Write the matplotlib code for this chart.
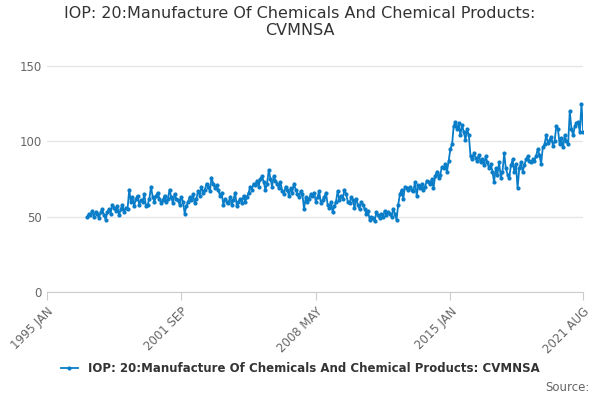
import pandas as pd
import matplotlib.pyplot as plt

# monthly values, Jan 1997 .. Aug 2021
y1997 = [50, 52, 51, 54, 50, 53, 52, 49, 53, 55, 51, 48]
y1998 = [53, 55, 52, 58, 56, 54, 57, 51, 55, 58, 53, 56]
y1999 = [55, 68, 60, 63, 57, 62, 64, 58, 61, 60, 65, 57]
y2000 = [58, 62, 70, 63, 60, 64, 66, 62, 59, 61, 64, 60]
y2001 = [62, 68, 63, 59, 65, 62, 61, 58, 63, 60, 52, 57]
y2002 = [60, 63, 61, 65, 59, 62, 67, 64, 70, 66, 68, 72]
y2003 = [70, 67, 76, 72, 69, 71, 68, 64, 66, 58, 62, 60]
y2004 = [59, 63, 58, 61, 66, 57, 60, 62, 59, 64, 60, 63]
y2005 = [66, 70, 68, 72, 71, 74, 70, 75, 77, 73, 68, 72]
y2006 = [81, 75, 70, 77, 74, 72, 69, 73, 67, 65, 70, 68]
y2007 = [64, 69, 66, 72, 68, 65, 63, 67, 65, 55, 63, 60]
y2008 = [62, 65, 64, 66, 60, 63, 67, 59, 61, 63, 66, 58]
y2009 = [56, 60, 53, 57, 60, 67, 61, 64, 62, 68, 65, 60]
y2010 = [59, 63, 61, 56, 62, 58, 55, 60, 58, 55, 52, 54]
y2011 = [48, 50, 49, 47, 53, 51, 49, 52, 50, 54, 51, 53]
y2012 = [52, 50, 55, 52, 48, 58, 65, 68, 62, 70, 69, 68]
y2013 = [70, 68, 67, 73, 64, 71, 69, 72, 68, 70, 74, 73]
y2014 = [72, 75, 69, 77, 80, 76, 78, 83, 82, 85, 80, 87]
y2015 = [95, 98, 110, 113, 108, 112, 104, 111, 106, 101, 108, 104]
y2016 = [90, 88, 92, 89, 87, 91, 86, 88, 84, 90, 86, 82]
y2017 = [85, 80, 73, 82, 78, 86, 76, 80, 92, 82, 78, 76]
y2018 = [84, 88, 80, 85, 69, 82, 86, 80, 84, 88, 90, 87]
y2019 = [86, 88, 87, 90, 95, 91, 85, 96, 98, 104, 99, 101]
y2020 = [103, 97, 100, 110, 108, 98, 102, 96, 104, 100, 98, 120]
y2021 = [108, 104, 110, 112, 113, 106, 125, 106]

values = (y1997 + y1998 + y1999 + y2000 + y2001 + y2002 + y2003 + y2004 + y2005
          + y2006 + y2007 + y2008 + y2009 + y2010 + y2011 + y2012 + y2013 + y2014
          + y2015 + y2016 + y2017 + y2018 + y2019 + y2020 + y2021)
dates = pd.date_range("1997-01-01", periods=len(values), freq="MS")

tick_dates = pd.to_datetime(["1995-01-01", "2001-09-01", "2008-05-01", "2015-01-01", "2021-08-01"])
tick_labels = ["1995 JAN", "2001 SEP", "2008 MAY", "2015 JAN", "2021 AUG"]

title = "IOP: 20:Manufacture Of Chemicals And Chemical Products: CVMNSA"
color = "#0a7dc8"

fig = plt.figure(figsize=(6, 4), dpi=100)
ax = fig.add_axes([0.078, 0.27, 0.894, 0.6025])
ax.plot(dates, values, color=color, lw=1.3, marker="o", ms=2.0, label=title)
ax.set_xlim(tick_dates[0], tick_dates[-1])
ax.set_ylim(0, 160)
ax.set_yticks([0, 50, 100, 150])
ax.set_xticks(tick_dates)
ax.set_xticklabels(tick_labels, rotation=45, ha="right", rotation_mode="anchor", color="#666666", fontsize=8.5)
ax.tick_params(axis="y", colors="#666666", labelsize=8.5, length=0)
ax.tick_params(axis="x", length=6, color="#cccccc")
ax.grid(axis="y", color="#e6e6e6", lw=1)
ax.set_axisbelow(True)
for s in ["top", "right", "left"]:
    ax.spines[s].set_visible(False)
ax.spines["bottom"].set_color("#cccccc")

fig.text(0.5, 0.985, "IOP: 20:Manufacture Of Chemicals And Chemical Products:\nCVMNSA",
         ha="center", va="top", fontsize=11.5, color="#333333", linespacing=1.2)
fig.legend(loc="lower center", bbox_to_anchor=(0.5, 0.035), frameon=False,
           prop={"size": 8.5, "weight": "bold"}, labelcolor="#333333", handlelength=1.5)
fig.text(0.982, 0.015, "Source:", ha="right", va="bottom", fontsize=8.5, color="#666666")

fig.savefig("out.png")
